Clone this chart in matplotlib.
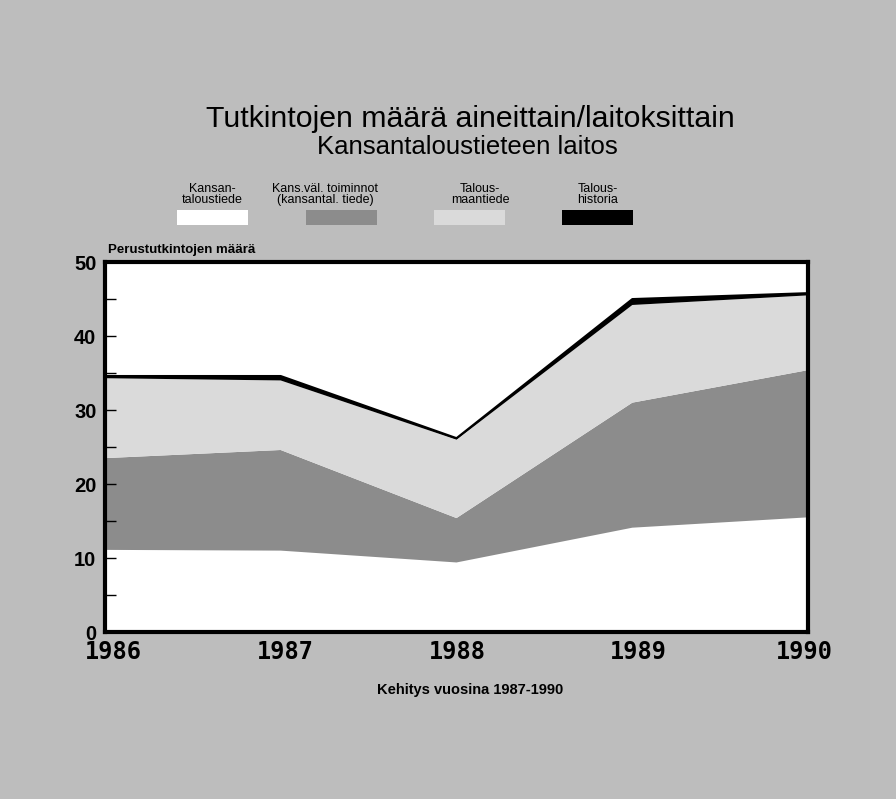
import matplotlib.pyplot as plt
from matplotlib.patches import Rectangle
from matplotlib.transforms import ScaledTranslation

# vuodet ja tutkintojen määrät aineittain (luettu kuvasta)
vuodet = [1986, 1987, 1988, 1989, 1990]
kansantaloustiede = [11.1, 11.0, 9.4, 14.1, 15.5]
kansvaliset = [12.4, 13.6, 6.0, 16.9, 19.9]
talousmaantiede = [10.8, 9.4, 10.6, 13.2, 10.1]
taloushistoria = [0.3, 0.6, 0.2, 0.8, 0.3]

sarjat = ['Kansan-\ntaloustiede', 'Kans.väl. toiminnot\n(kansantal. tiede)',
          'Talous-\nmaantiede', 'Talous-\nhistoria']
varit = ['#ffffff', '#8c8c8c', '#dadada', '#000000']
y_ticks = [0, 10, 20, 30, 40, 50]

plt.rcParams['font.family'] = ['Liberation Sans', 'DejaVu Sans']

fig = plt.figure(figsize=(8.96, 7.99), dpi=100)
fig.patch.set_facecolor('#bdbdbd')

ax = fig.add_axes([0.117, 0.209, 0.785, 0.463])
ax.set_facecolor('white')
ax.stackplot(vuodet, kansantaloustiede, kansvaliset, talousmaantiede,
             taloushistoria, colors=varit, edgecolor='none')
top = [a + b + c + d for a, b, c, d in zip(kansantaloustiede, kansvaliset,
                                          talousmaantiede, taloushistoria)]
ax.plot(vuodet, top, color='black', lw=1.5)

ax.set_xlim(1986, 1990)
ax.set_ylim(0, 50)
ax.set_yticks(y_ticks)
ax.set_yticks(range(5, 50, 10), minor=True)
ax.tick_params(axis='y', which='both', direction='in', length=8, width=1,
               labelsize=14.5, pad=6)
for lab in ax.get_yticklabels():
    lab.set_fontweight('bold')
ax.set_xticks([])
for s in ax.spines.values():
    s.set_linewidth(3)

# vuosiluvut hieman siirrettyinä kuten alkuperäisessä
siirto = [9, 5, 1, 6, -4]
for v, dx in zip(vuodet, siirto):
    tr = ax.get_xaxis_transform() + ScaledTranslation(dx / 100, -20 / 100,
                                                      fig.dpi_scale_trans)
    ax.text(v, 0, str(v), transform=tr, family='DejaVu Sans Mono',
            fontsize=17, fontweight='bold', ha='center', va='center')

fig.text(0.121, 0.687, 'Perustutkintojen määrä', fontsize=9.5,
         fontweight='bold', ha='left', va='center')
fig.text(0.525, 0.137, 'Kehitys vuosina 1987-1990', fontsize=10.5,
         fontweight='bold', ha='center', va='center')

fig.text(0.525, 0.851, 'Tutkintojen määrä aineittain/laitoksittain',
         fontsize=21.8, ha='center', va='center')
fig.text(0.522, 0.816, 'Kansantaloustieteen laitos', fontsize=18.5,
         ha='center', va='center')

# selitteet
teksti_x = [0.237, 0.363, 0.536, 0.667]
laatta_x = [0.237, 0.381, 0.524, 0.667]
for nimi, vari, tx, lx in zip(sarjat, varit, teksti_x, laatta_x):
    fig.text(tx, 0.757, nimi, fontsize=9, ha='center', va='center',
             linespacing=0.9)
    fig.patches.append(Rectangle((lx - 0.04, 0.718), 0.08, 0.019,
                                 transform=fig.transFigure,
                                 facecolor=vari, edgecolor='none'))

fig.savefig('out.png', dpi=100, facecolor=fig.get_facecolor())
